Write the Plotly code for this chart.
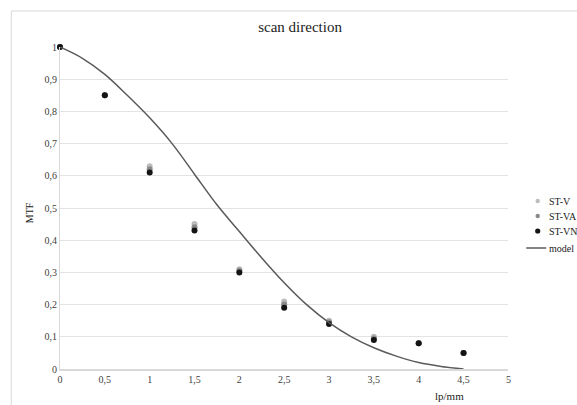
import plotly.graph_objects as go

x_meas = [0, 0.5, 1, 1.5, 2, 2.5, 3, 3.5, 4, 4.5]
st_v = [1.0, 0.85, 0.63, 0.45, 0.31, 0.21, 0.15, 0.10, 0.08, 0.05]
st_va = [1.0, 0.85, 0.62, 0.44, 0.305, 0.20, 0.145, 0.095, 0.08, 0.05]
st_vn = [1.0, 0.85, 0.61, 0.43, 0.30, 0.19, 0.14, 0.09, 0.08, 0.05]

x_model = [0, 0.25, 0.5, 0.75, 1, 1.25, 1.5, 1.75, 2, 2.25, 2.5, 2.75, 3, 3.25, 3.5, 3.75, 4, 4.25, 4.5]
model = [1.0, 0.965, 0.915, 0.85, 0.78, 0.70, 0.605, 0.51, 0.427, 0.345, 0.268, 0.20, 0.144, 0.10, 0.066, 0.04, 0.02, 0.008, 0.0]

x_ticks = [0, 0.5, 1, 1.5, 2, 2.5, 3, 3.5, 4, 4.5, 5]
y_ticks = [0, 0.1, 0.2, 0.3, 0.4, 0.5, 0.6, 0.7, 0.8, 0.9, 1]

series_names = ["ST-V", "ST-VA", "ST-VN", "model"]
series_colors = ["#bdbdbd", "#8a8a8a", "#141414", "#5a5a5a"]

FONT = "Liberation Serif"
L, R, T, B = 60, 0, 47, 36
PW = 577 - L - R   # paper width in px
PH = 405 - T - B   # paper height in px
X_END = 511        # right end of plot area in px


def px(xp):
    return (xp - L) / PW


def py(yp):
    return (405 - B - yp) / PH


fig = go.Figure()
for name, col, vals in zip(series_names[:3], series_colors[:3], [st_v, st_va, st_vn]):
    fig.add_trace(go.Scatter(x=x_meas, y=vals, mode="markers", name=name, cliponaxis=False,
                             showlegend=False, marker=dict(color=col, size=6)))
fig.add_trace(go.Scatter(x=x_model, y=model, mode="lines", name="model", cliponaxis=False,
                         showlegend=False,
                         line=dict(color=series_colors[3], width=1.5, shape="spline")))

# manual legend (shapes + text) positioned like the reference
shapes = [dict(type="rect", xref="paper", yref="paper",
               x0=px(11), x1=px(600), y0=py(430), y1=py(11),
               line=dict(color="#d9d9d9", width=1), layer="below")]
annotations = []
leg_y = [201, 216, 231, 248]
for i, (name, col) in enumerate(zip(series_names, series_colors)):
    yy = py(leg_y[i])
    if name == "model":
        shapes.append(dict(type="line", xref="paper", yref="paper",
                           x0=px(529), x1=px(549), y0=yy, y1=yy,
                           line=dict(color=col, width=1.5)))
    else:
        r = 2.6 if i == 2 else 2.2
        shapes.append(dict(type="circle", xref="paper", yref="paper",
                           xsizemode="pixel", ysizemode="pixel",
                           xanchor=px(540.5), yanchor=yy,
                           x0=-r, x1=r, y0=-r, y1=r,
                           fillcolor=col, line=dict(width=0)))
    annotations.append(dict(text=name, x=px(550), y=yy, xref="paper", yref="paper",
                            xanchor="left", yanchor="middle", showarrow=False,
                            font=dict(family=FONT, size=10, color="#222222")))

annotations += [
    dict(text="MTF", x=px(29), y=py(213), xref="paper", yref="paper",
         xanchor="center", yanchor="middle",
         showarrow=False, textangle=-90, font=dict(family=FONT, size=10, color="#222222")),
    dict(text="lp/mm", x=px(452), y=py(396), xref="paper", yref="paper",
         xanchor="center", yanchor="middle",
         showarrow=False, font=dict(family=FONT, size=11, color="#222222")),
]

fig.update_layout(
    width=577, height=405,
    margin=dict(l=L, r=R, t=T, b=B),
    paper_bgcolor="white", plot_bgcolor="white",
    separators=",.",
    font=dict(family=FONT, size=10, color="#404040"),
    title=dict(text="scan direction", x=0.52, xref="container", xanchor="center",
               y=1 - 27 / 405, yref="container", yanchor="middle",
               font=dict(family=FONT, size=15, color="#222222")),
    showlegend=False,
    xaxis=dict(domain=[0, (X_END - L) / PW], range=[0, 5], tickvals=x_ticks,
               showgrid=False, zeroline=False,
               showline=True, linecolor="#d9d9d9", linewidth=2, ticks="",
               tickfont=dict(family=FONT, size=10, color="#404040")),
    yaxis=dict(range=[0, 1], tickvals=y_ticks, showgrid=True, gridcolor="#e3e3e3",
               gridwidth=1, zeroline=False, showline=True, linecolor="#d9d9d9",
               linewidth=1, ticks="",
               tickfont=dict(family=FONT, size=10, color="#404040")),
    shapes=shapes,
    annotations=annotations,
)

fig.write_html("out.html")
